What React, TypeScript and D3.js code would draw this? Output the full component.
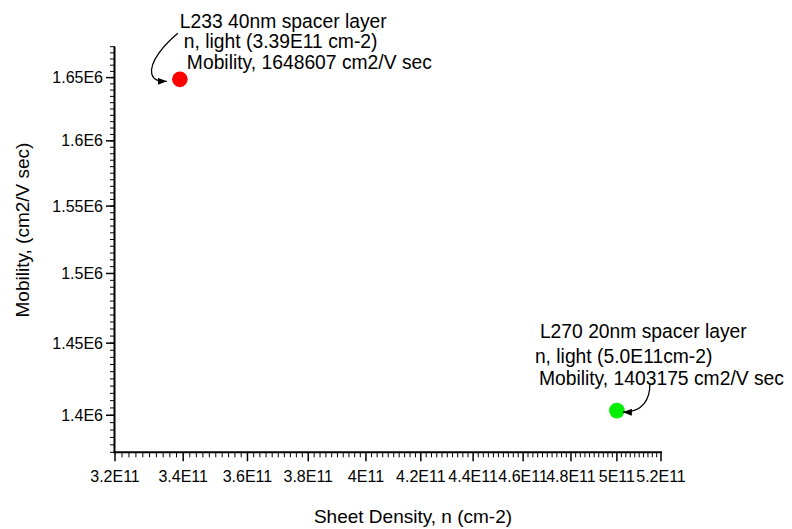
import React from "react";
import * as d3 from "d3";

const samples = ["L233", "L270"];
const sheetDensity = [3.39e11, 5.0e11];
const mobility = [1648607, 1403175];
const pointColors = ["#ff0000", "#00ee00"];
const annotationLines = [
  ["L233 40nm spacer layer", "n, light (3.39E11 cm-2)", "Mobility, 1648607 cm2/V sec"],
  ["L270 20nm spacer layer", "n, light (5.0E11cm-2)", "Mobility, 1403175 cm2/V sec"],
];
const xTicks = [3.2e11, 3.4e11, 3.6e11, 3.8e11, 4.0e11, 4.2e11, 4.4e11, 4.6e11, 4.8e11, 5.0e11, 5.2e11];
const xTickLabels = ["3.2E11", "3.4E11", "3.6E11", "3.8E11", "4E11", "4.2E11", "4.4E11", "4.6E11", "4.8E11", "5E11", "5.2E11"];
const yTicks = [1.4e6, 1.45e6, 1.5e6, 1.55e6, 1.6e6, 1.65e6];
const yTickLabels = ["1.4E6", "1.45E6", "1.5E6", "1.55E6", "1.6E6", "1.65E6"];
const xDomain = [3.2e11, 5.2e11];
const yDomain = [1.375e6, 1.675e6];
const yMinorStep = 5000;
const xTitle = "Sheet Density, n (cm-2)";
const yTitle = "Mobility, (cm2/V sec)";

const W = 792;
const H = 529;
const FONT = "'Liberation Sans', Arial, Helvetica, sans-serif";

export default function App() {
  const x0 = 115, x1 = 661, yTop = 46.7, yBot = 452.3;
  const x = d3.scaleLog().domain(xDomain).range([x0, x1]);
  const y = d3.scaleLog().domain(yDomain).range([yBot, yTop]);

  const xMinor: number[] = [];
  for (let i = 0; i < xTicks.length - 1; i++) {
    const step = (xTicks[i + 1] - xTicks[i]) / 10;
    for (let k = 1; k < 10; k++) xMinor.push(xTicks[i] + k * step);
  }
  const yMinor = d3.range(yDomain[0], yDomain[1] + 1, yMinorStep);

  const pts = samples.map((s, i) => ({ s, px: x(sheetDensity[i]), py: y(mobility[i]), c: pointColors[i], lines: annotationLines[i] }));

  const labelLayout = [
    { dx: [0, 4, 7], dy: [-51, -31, -10.5], size: 19.3 },
    { dx: [-77, -82, -78], dy: [-72.5, -48, -25.5], size: 19.3 },
  ];
  const arrowPaths = [
    (px: number, py: number) => `M${px - 2},${py - 46} C${px - 14},${py - 36} ${px - 31},${py - 18} ${px - 28},${py - 5} C${px - 26},${py + 1} ${px - 21},${py + 2} ${px - 13},${py + 2}`,
    (px: number, py: number) => `M${px + 33},${py - 26} C${px + 33},${py - 13} ${px + 27},${py + 2} ${px + 6},${py + 1.5}`,
  ];

  return (
    <svg width={W} height={H} style={{ position: "absolute", left: 0, top: 0, background: "#fff" }} fontFamily={FONT}>
      <defs>
        <marker id="ah" markerUnits="userSpaceOnUse" markerWidth={9} markerHeight={7} refX={9} refY={3.5} orient="auto">
          <path d="M0,0 L9,3.5 L0,7 Z" fill="#000" />
        </marker>
      </defs>
      <rect x={0} y={0} width={W} height={H} fill="#fff" />
      <line x1={x0 - 0.5} x2={x0 - 0.5} y1={yTop} y2={yBot + 1} stroke="#000" strokeWidth={2} />
      {yMinor.map((v, i) => (
        <line key={"ym" + i} x1={x0 - 5} x2={x0} y1={y(v)} y2={y(v)} stroke="#000" strokeWidth={1} />
      ))}
      {yTicks.map((v, i) => (
        <g key={"yt" + i}>
          <line x1={x0 - 9} x2={x0} y1={y(v)} y2={y(v)} stroke="#000" strokeWidth={1.5} />
          <text x={x0 - 12} y={y(v) + 5.5} textAnchor="end" fontSize={16} fill="#000">{yTickLabels[i]}</text>
        </g>
      ))}
      <line x1={x0 - 1.5} x2={x1 + 1} y1={yBot} y2={yBot} stroke="#000" strokeWidth={2} />
      {xMinor.map((v, i) => (
        <line key={"xm" + i} x1={x(v)} x2={x(v)} y1={yBot} y2={yBot + 5} stroke="#000" strokeWidth={1} />
      ))}
      {xTicks.map((v, i) => (
        <g key={"xt" + i}>
          <line x1={x(v)} x2={x(v)} y1={yBot} y2={yBot + 9} stroke="#000" strokeWidth={1.5} />
          <text x={x(v)} y={481.5} textAnchor="middle" fontSize={16} fill="#000">{xTickLabels[i]}</text>
        </g>
      ))}
      <text x={413} y={523} textAnchor="middle" fontSize={19} fill="#000">{xTitle}</text>
      <text transform={`translate(29,230) rotate(-90)`} textAnchor="middle" fontSize={19} fill="#000">{yTitle}</text>
      {pts.map((p, i) => (
        <g key={"p" + i}>
          <circle cx={p.px} cy={p.py} r={7.8} fill={p.c} />
          <path d={arrowPaths[i](p.px, p.py)} fill="none" stroke="#000" strokeWidth={1.3} markerEnd="url(#ah)" />
          {p.lines.map((t, j) => (
            <text key={j} x={p.px + labelLayout[i].dx[j]} y={p.py + labelLayout[i].dy[j]} fontSize={labelLayout[i].size} fill="#000">{t}</text>
          ))}
        </g>
      ))}
    </svg>
  );
}
